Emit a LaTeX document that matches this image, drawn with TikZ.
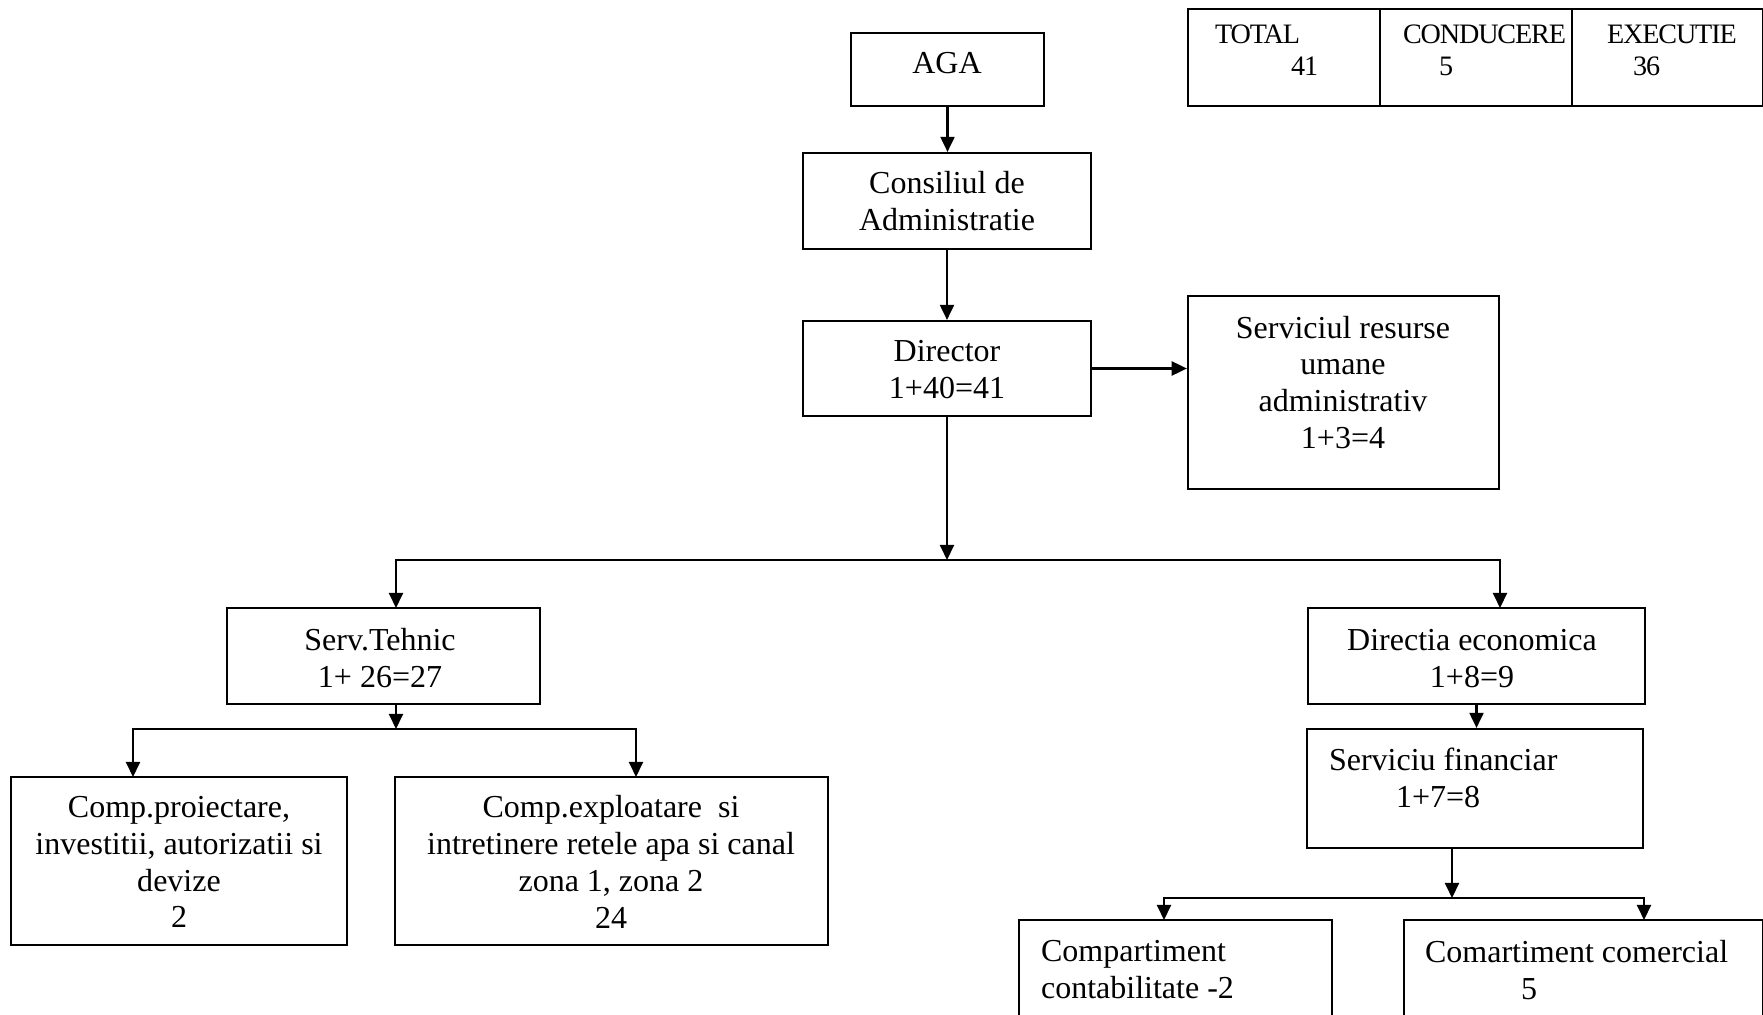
\documentclass[tikz,border=0pt]{standalone}
\usepackage{fontspec}
\setmainfont{Liberation Serif}
\newfontfamily\tabfont[LetterSpace=-4]{Liberation Serif}
\usetikzlibrary{arrows.meta}
\newcommand{\orgsize}{\fontsize{9.1}{10.5}\selectfont}
\newcommand{\tabsize}{\tabfont\fontsize{8}{9.3}\selectfont}

\begin{document}
\begin{tikzpicture}[x=0.01cm, y=-0.01cm, line width=0.6pt,
		box/.style={draw, inner sep=0pt},
		txt/.style={font=\orgsize, align=center, inner sep=0pt},
		tabtxt/.style={font=\tabsize, anchor=west, inner sep=0pt},
		arr/.style={-{Triangle[length=4.3pt,width=4pt]}}]
	\useasboundingbox (0,0) rectangle (1763,1015);
	\fill[white] (0,0) rectangle (1763,1015);
	\clip (0,0) rectangle (1763,1015);
	% table
	\node[box, minimum width=1.92cm, minimum height=0.97cm] (tot) at (1284,57.5) {};
	\node[box, minimum width=1.92cm, minimum height=0.97cm] (cond) at (1476,57.5) {};
	\node[box, minimum width=1.91cm, minimum height=0.97cm] (exe) at (1667.5,57.5) {};
	\node[tabtxt] (totT) at (1214,34) {TOTAL};
	\node[tabtxt] (totN) at (1290,66) {41};
	\node[tabtxt] (condT) at (1402,34) {CONDUCERE};
	\node[tabtxt] (condN) at (1438,66) {5};
	\node[tabtxt] (exeT) at (1606,34) {EXECUTIE};
	\node[tabtxt] (exeN) at (1632,66) {36};
	% boxes
	\node[box, minimum width=1.93cm, minimum height=0.73cm] (aga) at (947.5,69.5) {};
	\node[txt] (agaT) at (947,63) {AGA};
	\node[box, minimum width=2.88cm, minimum height=0.96cm] (cons) at (947,201) {};
	\node[txt] (consT) at (947,201.5) {Consiliul de\\Administratie};
	\node[box, minimum width=2.88cm, minimum height=0.95cm] (dir) at (947,368.5) {};
	\node[txt] (dirT) at (947,369.5) {Director\\1+40=41};
	\node[box, minimum width=3.11cm, minimum height=1.93cm] (hr) at (1343.5,392.5) {};
	\node[txt] (hrT) at (1343,382.5) {Serviciul resurse\\umane\\administrativ\\1+3=4};
	\node[box, minimum width=3.13cm, minimum height=0.96cm] (teh) at (383.5,656) {};
	\node[txt] (tehT) at (380,658.5) {Serv.Tehnic\\1+ 26=27};
	\node[box, minimum width=3.37cm, minimum height=0.96cm] (dec) at (1476.5,656) {};
	\node[txt] (decT) at (1472,658.5) {Directia economica\\1+8=9};
	\node[box, minimum width=3.36cm, minimum height=1.19cm] (fin) at (1475,788.5) {};
	\node[txt, align=left, anchor=north west] (finT) at (1328,747) {Serviciu financiar\\\hspace*{0.67cm}1+7=8};
	\node[box, minimum width=3.36cm, minimum height=1.68cm] (proi) at (179,861) {};
	\node[txt] (proiT) at (179,862) {Comp.proiectare,\\investitii, autorizatii si\\devize\\2};
	\node[box, minimum width=4.33cm, minimum height=1.68cm] (expl) at (611.5,861) {};
	\node[txt] (explT) at (611,862) {Comp.exploatare\ \ si\\intretinere retele apa si canal\\zona 1, zona 2\\24};
	\node[box, minimum width=3.13cm, minimum height=1.40cm] (cont) at (1175.5,990) {};
	\node[txt, align=left, anchor=north west] (contT) at (1040,939) {Compartiment\\contabilitate -2};
	\node[box, minimum width=3.59cm, minimum height=1.40cm] (com) at (1583.5,990) {};
	\node[txt, align=left, anchor=north west] (comT) at (1424,939) {Comartiment comercial\\\hspace*{0.96cm}5};
	% branch points
	\coordinate (j1) at (947,560);
	\coordinate (tehIn) at (396,608);
	\coordinate (decIn) at (1500,608);
	\coordinate (j2) at (396,729);
	\coordinate (proiIn) at (133,777);
	\coordinate (explIn) at (636,777);
	\coordinate (j3) at (1452,898);
	\coordinate (contIn) at (1164,920);
	\coordinate (comIn) at (1644,920);
	% arrows
	\draw[arr] (aga.south) -- (aga.south |- cons.north);
	\draw[arr] (cons.south) -- (cons.south |- dir.north);
	\draw[arr] (dir.east) -- (dir.east -| hr.west);
	\draw[arr] (dir.south) -- (j1);
	\draw[arr] (j1) -| (tehIn);
	\draw[arr] (j1) -| (decIn);
	\draw[arr] (teh.south -| j2) -- (j2);
	\draw[arr] (j2) -| (proiIn);
	\draw[arr] (j2) -| (explIn);
	\draw[arr] (dec.south) -- (dec.south |- fin.north);
	\draw[arr] (fin.south -| j3) -- (j3);
	\draw[arr] (j3) -| (contIn);
	\draw[arr] (j3) -| (comIn);
\end{tikzpicture}
\end{document}
